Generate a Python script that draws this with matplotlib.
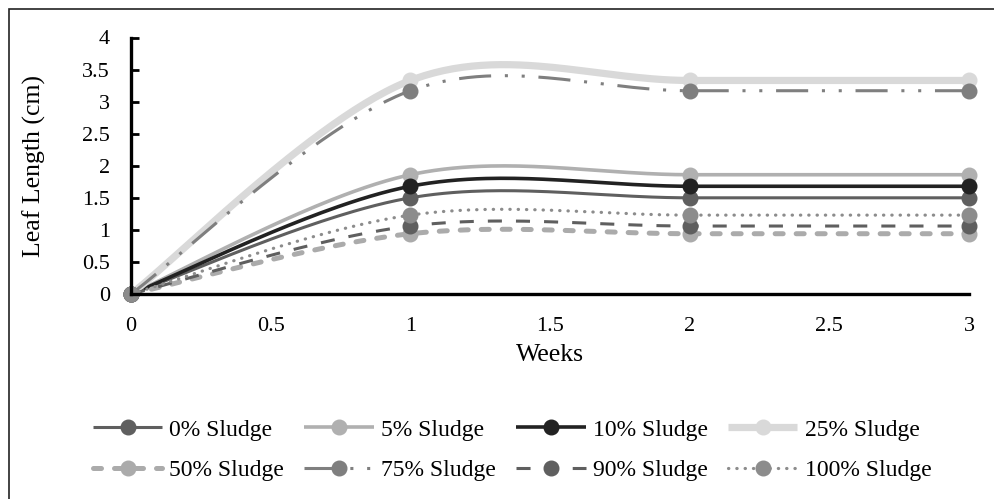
import numpy as np
import matplotlib
matplotlib.use("Agg")
from matplotlib import pyplot as plt
from matplotlib.patches import Rectangle

plt.rcParams['font.family'] = ['Liberation Serif', 'DejaVu Serif']

weeks = [0, 1, 2, 3]
labels = ['0% Sludge', '5% Sludge', '10% Sludge', '25% Sludge',
          '50% Sludge', '75% Sludge', '90% Sludge', '100% Sludge']
sludge_0 = [0, 1.50, 1.50, 1.50]
sludge_5 = [0, 1.86, 1.86, 1.86]
sludge_10 = [0, 1.68, 1.68, 1.68]
sludge_25 = [0, 3.33, 3.33, 3.33]
sludge_50 = [0, 0.94, 0.94, 0.94]
sludge_75 = [0, 3.17, 3.17, 3.17]
sludge_90 = [0, 1.06, 1.06, 1.06]
sludge_100 = [0, 1.23, 1.23, 1.23]
series = [sludge_0, sludge_5, sludge_10, sludge_25,
          sludge_50, sludge_75, sludge_90, sludge_100]

# colour, line width, dash pattern (None = solid), cap style
styles = [
    ('#5f5f5f', 2.2, None, 'butt'),
    ('#b0b0b0', 2.6, None, 'butt'),
    ('#222222', 2.6, None, 'butt'),
    ('#d9d9d9', 5.2, None, 'butt'),
    ('#ababab', 3.6, (1.6, 2.6), 'round'),
    ('#7f7f7f', 2.2, (10.5, 4.5, 1, 4.5, 1, 4.5), 'butt'),
    ('#5f5f5f', 2.2, (4.6, 4.6), 'butt'),
    ('#8c8c8c', 2.3, (0.1, 2.5), 'round'),
]


def smooth(x, y, n=60):
    '''Bezier smoothing through the points (Catmull-Rom style, factor 1/6).'''
    p = np.column_stack([x, y]).astype(float)
    pts = np.vstack([p[0], p, p[-1]])
    t = np.linspace(0, 1, n)[:, None]
    out = []
    for i in range(1, len(pts) - 2):
        p0, p1, p2, p3 = pts[i - 1], pts[i], pts[i + 1], pts[i + 2]
        c1 = p1 + (p2 - p0) / 6
        c2 = p2 - (p3 - p1) / 6
        seg = ((1 - t) ** 3 * p1 + 3 * (1 - t) ** 2 * t * c1
               + 3 * (1 - t) * t ** 2 * c2 + t ** 3 * p2)
        out.append(seg if i == 1 else seg[1:])
    out = np.vstack(out)
    return out[:, 0], out[:, 1]


fig = plt.figure(figsize=(9.94, 4.99), dpi=100)
ax = fig.add_axes([131 / 994, 1 - 294 / 499, (969 - 131) / 994, (294 - 37.5) / 499])

handles = []
for vals, lab, (col, lw, dash, cap) in zip(series, labels, styles):
    sx, sy = smooth(weeks, vals)
    line, = ax.plot(sx, sy, color=col, lw=lw, solid_capstyle='butt',
                    dash_capstyle=cap, label=lab)
    if dash is not None:
        line.set_dashes(dash)
    ax.plot(weeks, vals, 'o', color=col, ms=10.5, mec=col, zorder=line.get_zorder())
    proxy, = ax.plot([], [], color=col, lw=lw, marker='o', ms=10.5, mec=col,
                     dash_capstyle=cap, solid_capstyle='butt')
    if dash is not None:
        proxy.set_dashes(dash)
    handles.append(proxy)

ax.set_xlim(0, 3)
ax.set_ylim(0, 4)
ax.set_xticks(np.arange(0, 3.01, 0.5))
ax.set_xticklabels(['0', '0.5', '1', '1.5', '2', '2.5', '3'])
ax.set_yticks(np.arange(0, 4.01, 0.5))
ax.set_yticklabels(['0', '0.5', '1', '1.5', '2', '2.5', '3', '3.5', '4'])
ax.tick_params(axis='y', direction='in', length=6, width=2, labelsize=16, pad=15)
ax.tick_params(axis='x', length=0, labelsize=16, pad=16.5)

for s in ['top', 'right']:
    ax.spines[s].set_visible(False)
for s in ['left', 'bottom']:
    ax.spines[s].set_linewidth(2.4)
    ax.spines[s].set_color('black')

ax.set_xlabel('Weeks', fontsize=18.5)
ax.set_ylabel('Leaf Length (cm)', fontsize=18.5)
ax.xaxis.set_label_coords(0.5, (294 - 344) / 256.5)
ax.yaxis.set_label_coords((46 - 131) / 838, 0.5)

for l in ax.get_lines():
    l.set_clip_on(False)

# legend filled row by row, four entries per row
order = [0, 4, 1, 5, 2, 6, 3, 7]
fig.legend(handles=[handles[i] for i in order], labels=[labels[i] for i in order],
           ncol=4, loc='center', bbox_to_anchor=(512 / 994, 1 - 450 / 499),
           frameon=False, fontsize=17, handlelength=2.95, handletextpad=0.3,
           columnspacing=0.85, labelspacing=0.8, numpoints=1)

# outer chart frame
fig.add_artist(Rectangle((8.5 / 994, -0.1), 2, 1 - 9.5 / 499 + 0.1,
                         transform=fig.transFigure, fill=False,
                         lw=1.2, ec='#222222'))

fig.savefig('out.png', dpi=100)
